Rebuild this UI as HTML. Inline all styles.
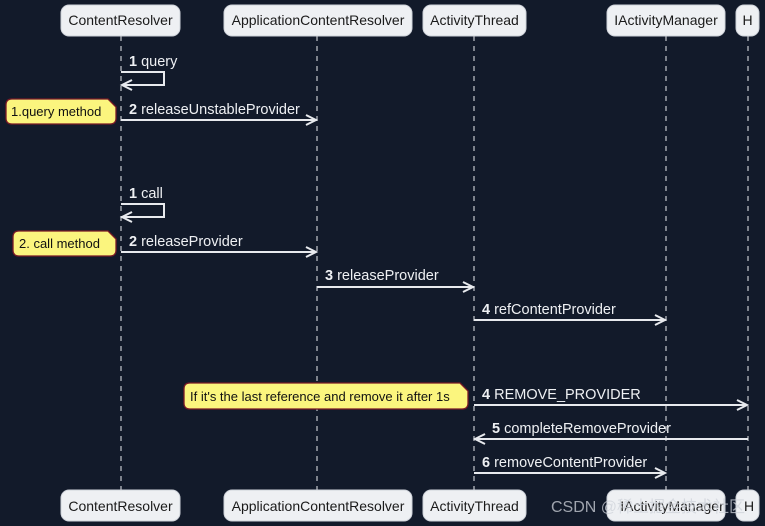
<!DOCTYPE html>
<html><head><meta charset="utf-8"><style>
html,body{margin:0;padding:0;background:#121a2a;}
svg{display:block;}
text{font-family:"Liberation Sans",sans-serif;font-size:14px;}
</style></head><body>
<svg width="765" height="526" viewBox="0 0 765 526" xmlns="http://www.w3.org/2000/svg">
<rect width="765" height="526" fill="#121a2a"/>
<g stroke="#e8eaee" stroke-width="1" stroke-dasharray="5,5">
<line x1="121" y1="36" x2="121" y2="490"/>
<line x1="317" y1="36" x2="317" y2="490"/>
<line x1="474" y1="36" x2="474" y2="490"/>
<line x1="666" y1="36" x2="666" y2="490"/>
<line x1="748" y1="36" x2="748" y2="490"/>
</g>
<g fill="#eef0f3" stroke="#cfd3da">
<rect x="61" y="5" width="119" height="31" rx="8"/>
<rect x="224" y="5" width="188" height="31" rx="8"/>
<rect x="423" y="5" width="103" height="31" rx="8"/>
<rect x="607" y="5" width="118" height="31" rx="8"/>
<rect x="736" y="5" width="23" height="31" rx="8"/>
<rect x="61" y="490" width="119" height="31" rx="8"/>
<rect x="224" y="490" width="188" height="31" rx="8"/>
<rect x="423" y="490" width="103" height="31" rx="8"/>
<rect x="607" y="490" width="118" height="31" rx="8"/>
<rect x="736" y="490" width="23" height="31" rx="8"/>
</g>
<g fill="#1a1a1a" text-anchor="middle">
<text x="120.5" y="25">ContentResolver</text>
<text x="318" y="25">ApplicationContentResolver</text>
<text x="474.5" y="25">ActivityThread</text>
<text x="666" y="25">IActivityManager</text>
<text x="747.5" y="25">H</text>
<text x="120.5" y="511">ContentResolver</text>
<text x="318" y="511">ApplicationContentResolver</text>
<text x="474.5" y="511">ActivityThread</text>
<text x="672" y="511">IActivityManager</text>
<text x="749" y="511">H</text>
</g>
<g stroke="#e8eaee" stroke-width="2" fill="none">
<polyline points="121,72 164,72 164,85 122,85"/>
<polyline points="132,80 122,85 132,90"/>
<line x1="121" y1="120" x2="316" y2="120"/><polyline points="306,115 316,120 306,125"/>
<polyline points="121,204 164,204 164,217 122,217"/>
<polyline points="132,212 122,217 132,222"/>
<line x1="121" y1="252" x2="316" y2="252"/><polyline points="306,247 316,252 306,257"/>
<line x1="317" y1="287" x2="473" y2="287"/><polyline points="463,282 473,287 463,292"/>
<line x1="474" y1="320" x2="665" y2="320"/><polyline points="655,315 665,320 655,325"/>
<line x1="474" y1="405" x2="747" y2="405"/><polyline points="737,400 747,405 737,410"/>
<line x1="748" y1="439" x2="475" y2="439"/><polyline points="485,434 475,439 485,444"/>
<line x1="474" y1="473" x2="665" y2="473"/><polyline points="655,468 665,473 655,478"/>
</g>
<g fill="#eef0f3" style="font-size:14.5px">
<text x="129" y="66" style="font-size:14.5px"><tspan font-weight="bold">1</tspan> query</text>
<text x="129" y="114" style="font-size:14.5px"><tspan font-weight="bold">2</tspan> releaseUnstableProvider</text>
<text x="129" y="198" style="font-size:14.5px"><tspan font-weight="bold">1</tspan> call</text>
<text x="129" y="246" style="font-size:14.5px"><tspan font-weight="bold">2</tspan> releaseProvider</text>
<text x="325" y="280" style="font-size:14.5px"><tspan font-weight="bold">3</tspan> releaseProvider</text>
<text x="482" y="314" style="font-size:14.5px"><tspan font-weight="bold">4</tspan> refContentProvider</text>
<text x="482" y="399" style="font-size:14.5px"><tspan font-weight="bold">4</tspan> REMOVE_PROVIDER</text>
<text x="492" y="433" style="font-size:14.5px"><tspan font-weight="bold">5</tspan> completeRemoveProvider</text>
<text x="482" y="467" style="font-size:14.5px"><tspan font-weight="bold">6</tspan> removeContentProvider</text>
</g>
<g fill="#fbf57e" stroke="#7a1a26" stroke-width="1.3">
<path d="M12,99 H108 L116,107 V118 Q116,124 110,124 H12 Q6,124 6,118 V105 Q6,99 12,99 Z"/>
<path d="M19,231 H108 L116,239 V250 Q116,256 110,256 H19 Q13,256 13,250 V237 Q13,231 19,231 Z"/>
<path d="M190,383 H460 L468,391 V403 Q468,409 462,409 H190 Q184,409 184,403 V389 Q184,383 190,383 Z"/>
</g>
<g fill="#111">
<text x="11" y="116" style="font-size:13px">1.query method</text>
<text x="19" y="248" style="font-size:13px">2. call method</text>
<text x="190" y="401" style="font-size:13px">If it's the last reference and remove it after 1s</text>
</g>
<text x="551" y="512" fill="#cfd3da" style="font-size:16px;opacity:0.75">CSDN @稀土掘金技术社区</text>
</svg>
</body></html>
